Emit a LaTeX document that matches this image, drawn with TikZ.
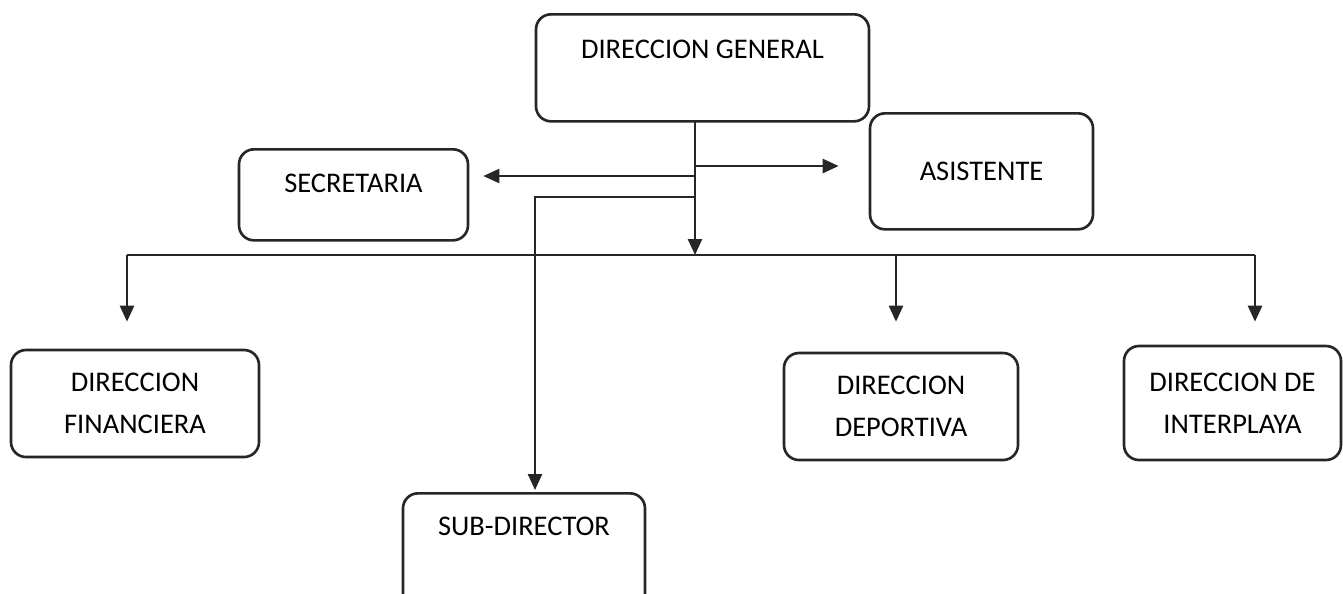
\documentclass[tikz,border=0pt]{standalone}
\usepackage{fontspec}
\setmainfont{Carlito}
\usetikzlibrary{arrows.meta,positioning}
\newdimen\px \px=0.02cm

\tikzset{
  cargo/.style={draw=black!85, line width=1.5pt, rounded corners=0.3cm, inner sep=0pt,
    font=\fontsize{16.2}{24}\selectfont, text=black},
  linea/.style={line width=1.4pt, draw=black!85},
  flecha/.style={linea, -{Triangle[length=0.32cm,width=0.28cm]}}
}

\begin{document}
\begin{tikzpicture}[x=0.02cm,y=-0.02cm]
  \clip (0,0) rectangle (1343,593);
  \fill[white] (0,0) rectangle (1343,593);

  % cajas
  \node[cargo, anchor=north, minimum width=333\px, text height=44\px, text depth=63\px] (general) at (702.5,13) {DIRECCION GENERAL};
  \node[cargo, anchor=north, minimum width=229\px, text height=43\px, text depth=48\px] (secretaria) at (353.5,148) {SECRETARIA};
  \node[cargo, anchor=north, minimum width=223\px, text height=67\px, text depth=49\px] (asistente) at (981.5,112) {ASISTENTE};
  \node[cargo, anchor=north, minimum width=242\px, text height=42\px, text depth=76\px] (subdirector) at (524,492) {SUB-DIRECTOR};

  \node[cargo, align=center, minimum width=248\px, minimum height=107\px] (financiera) at (135,403.5) {DIRECCION\\FINANCIERA};
  \node[cargo, align=center, minimum width=234\px, minimum height=107\px] (deportiva) at (901,406.5) {DIRECCION\\DEPORTIVA};
  \node[cargo, align=center, minimum width=217\px, minimum height=114\px] (interplaya) at (1232.5,403) {DIRECCION DE\\INTERPLAYA};

  % puntos de las lineas
  \coordinate (tronco) at (695,120);
  \coordinate (ramaA) at (695,166);
  \coordinate (ramaS) at (695,176);
  \coordinate (ramaD) at (695,197);
  \coordinate (codo) at (535,197);
  \coordinate (barra) at (695,255);
  \coordinate (barraI) at (127,255);
  \coordinate (barraP) at (896,255);
  \coordinate (barraD) at (1255,255);

  % conectores
  \draw[flecha] (tronco) -- (barra);
  \draw[flecha, shorten >=0.6cm] (ramaA) -- (ramaA -| asistente.west);
  \draw[flecha, shorten >=0.28cm] (ramaS) -- (ramaS -| secretaria.east);
  \draw[flecha, shorten >=0.04cm] (ramaD) -- (codo) -- (codo |- subdirector.north);
  \draw[linea] (barraI) -- (barraD);
  \draw[flecha, shorten >=0.54cm] (barraI) -- (barraI |- financiera.north);
  \draw[flecha, shorten >=0.6cm] (barraP) -- (barraP |- deportiva.north);
  \draw[flecha, shorten >=0.46cm] (barraD) -- (barraD |- interplaya.north);
\end{tikzpicture}
\end{document}
